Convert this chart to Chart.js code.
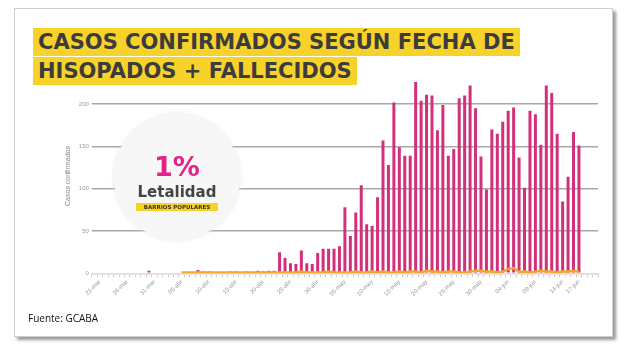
<!DOCTYPE html>
<html>
<head>
<meta charset="utf-8">
<script src="https://cdn.jsdelivr.net/npm/chart.js@4"></script>
<style>
  body { margin: 0; width: 630px; height: 354px; background: #fff; position: relative; overflow: hidden; font-family: "DejaVu Sans", sans-serif; }
  #frame { position: absolute; left: 14px; top: 8px; width: 597px; height: 327px; border: 1px solid #d0d0d0; box-shadow: 3px 3px 3px #9a9a9a; background: #fff; }
  .title { position: absolute; left: 33px; background: #f6d22a; color: #3c3c3c; font-weight: bold; font-size: 21px; line-height: 28px; padding: 0 5px; white-space: nowrap; }
  #t1 { top: 28px; }
  #t2 { top: 57px; }
  #chartBox { position: absolute; left: 62px; top: 70px; width: 548px; height: 250px; }
  #circle { position: absolute; left: 114px; top: 114px; width: 126px; height: 126px; border-radius: 50%; background: #f7f7f7; box-shadow: 0 0 4px #e6e6e6; text-align: center; }
  #pct { position: absolute; top: 38px; width: 100%; font-size: 27px; font-weight: bold; color: #e3238b; line-height: 30px; }
  #let { position: absolute; top: 69px; width: 100%; font-size: 15px; font-weight: bold; color: #444; line-height: 18px; }
  #bp { position: absolute; top: 89px; left: 22px; width: 82px; background: #f6d22a; font-size: 5.5px; font-weight: bold; color: #333; line-height: 8px; }
  #src { position: absolute; left: 28px; top: 311px; font-family: "Open Sans", sans-serif; font-size: 10px; color: #111; }
</style>
</head>
<body>
<div id="frame"></div>
<div class="title" id="t1">CASOS CONFIRMADOS SEGÚN FECHA DE</div>
<div class="title" id="t2">HISOPADOS + FALLECIDOS</div>
<div id="chartBox"><canvas id="myChart"></canvas></div>
<div id="circle">
  <div id="pct">1%</div>
  <div id="let">Letalidad</div>
  <div id="bp">BARRIOS POPULARES</div>
</div>
<div id="src">Fuente: GCABA</div>
<script>
const fechas = [
  '20-mar','21-mar','22-mar','23-mar','24-mar','25-mar','26-mar','27-mar','28-mar','29-mar','30-mar','31-mar',
  '01-abr','02-abr','03-abr','04-abr','05-abr','06-abr','07-abr','08-abr','09-abr','10-abr','11-abr','12-abr','13-abr','14-abr','15-abr',
  '16-abr','17-abr','18-abr','19-abr','20-abr','21-abr','22-abr','23-abr','24-abr','25-abr','26-abr','27-abr','28-abr','29-abr','30-abr',
  '01-may','02-may','03-may','04-may','05-may','06-may','07-may','08-may','09-may','10-may','11-may','12-may','13-may','14-may','15-may',
  '16-may','17-may','18-may','19-may','20-may','21-may','22-may','23-may','24-may','25-may','26-may','27-may','28-may','29-may','30-may','31-may',
  '01-jun','02-jun','03-jun','04-jun','05-jun','06-jun','07-jun','08-jun','09-jun','10-jun','11-jun','12-jun','13-jun','14-jun','15-jun',
  '16-jun','17-jun','18-jun','19-jun','20-jun'
];

const etiquetas = ['21-mar','26-mar','31-mar','05-abr','10-abr','15-abr','20-abr','25-abr','30-abr','05-may',
  '10-may','15-may','20-may','25-may','30-may','04-jun','09-jun','14-jun','17-jun'];

const casos = [
  0,0,0,0,1,0,0,0,0,1,3,1,1,1,1,1,1,0,1,4,2,2,0,0,1,2,2,1,2,1,3,2,3,3,
  25,18,12,11,27,12,11,24,29,29,29,32,78,44,72,104,58,56,90,
  157,128,202,149,139,139,226,204,211,210,169,199,139,147,207,210,222,195,138,99,
  170,165,179,192,196,137,101,192,188,152,222,213,165,85,114,167,151,
  null,null,null
];

const fallecidos = [
  null,null,null,null,null,null,null,null,null,null,null,null,null,null,null,null,
  1,1,1,1,1,1,1,1,1,1,1,1,1,1,1,1,1,1,
  1,1,1,1,2,1,1,1,1,2,1,1,1,1,2,1,1,2,1,
  2,1,1,2,1,2,2,1,3,2,2,1,2,2,1,1,2,3,3,2,2,1,2,5,6,2,2,1,2,3,2,2,1,2,2,3,2,
  null,null,null
];

const ticksY = [0, 50, 100, 150, 200];

const ctx = document.getElementById('myChart').getContext('2d');
const myChart = new Chart(ctx, {
    type: 'bar',
    data: {
        labels: fechas,
        datasets: [
            {
                type: 'line',
                label: 'Fallecidos',
                data: fallecidos,
                borderColor: '#f4a62a',
                borderWidth: 2.5,
                pointRadius: 0,
                tension: 0.3,
                order: 0
            },
            {
                label: 'Casos confirmados',
                data: casos,
                backgroundColor: '#d2307a',
                barPercentage: 0.55,
                categoryPercentage: 1,
                order: 1
            }
        ]
    },
    options: {
        responsive: true,
        maintainAspectRatio: false,
        animation: false,
        layout: { padding: { top: 8.7, right: 12 } },
        plugins: { legend: { display: false }, tooltip: { enabled: false } },
        scales: {
            x: {
                offset: true,
                grid: { display: true, drawOnChartArea: false, tickLength: 4, color: '#ccc' },
                border: { color: '#ddd', width: 1.5 },
                ticks: {
                    autoSkip: false,
                    minRotation: 45,
                    maxRotation: 45,
                    padding: 1,
                    color: '#999',
                    font: { size: 6 },
                    callback: function (v, i) {
                        const l = fechas[i];
                        return etiquetas.includes(l) ? l : '';
                    }
                },
                afterFit: (scale) => { scale.height = 46.7; }
            },
            y: {
                min: 0,
                max: 230,
                afterBuildTicks: (scale) => { scale.ticks = ticksY.map(v => ({ value: v })); },
                grid: { color: (c) => c.tick.value === 0 ? '#ddd' : '#a8a8a8', lineWidth: 1.5, tickLength: 0 },
                border: { display: false },
                ticks: { color: '#999', font: { size: 6 }, padding: 3 },
                title: { display: true, text: 'Casos confirmados', color: '#888', font: { size: 7 }, padding: { top: 2, bottom: 2 } },
                afterFit: (scale) => { scale.width = 29.8; }
            }
        }
    }
});
</script>
</body>
</html>
